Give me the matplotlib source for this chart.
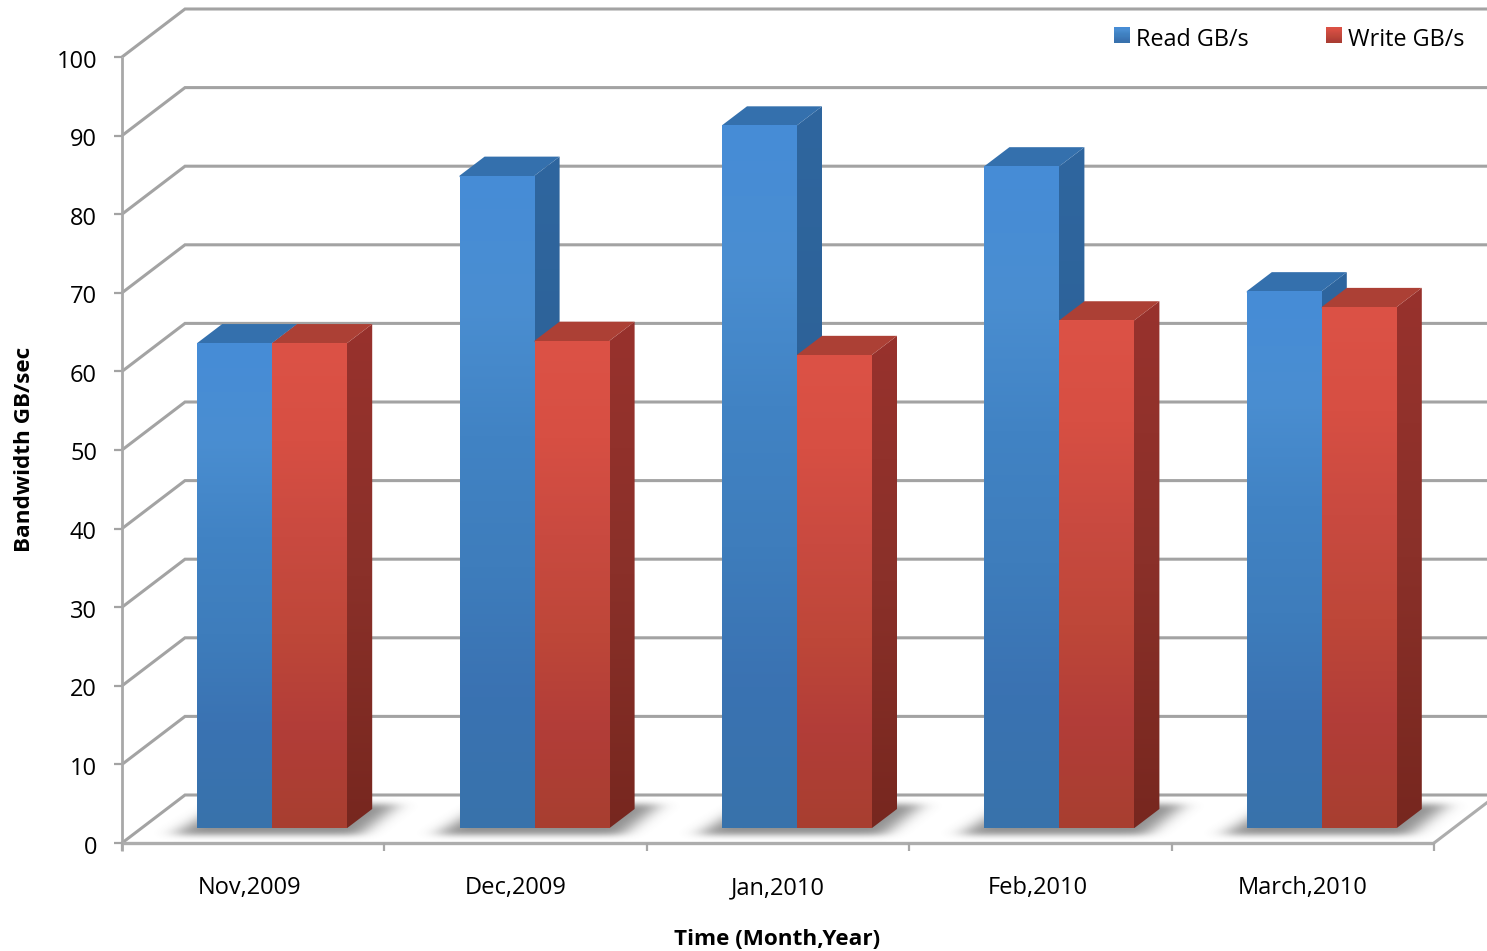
import matplotlib
matplotlib.use('Agg')
import matplotlib.pyplot as plt
import numpy as np
from matplotlib.colors import LinearSegmentedColormap
from matplotlib.patches import Polygon
from matplotlib.path import Path

plt.rcParams['font.family'] = ['Open Sans', 'DejaVu Sans']

months = ['Nov,2009', 'Dec,2009', 'Jan,2010', 'Feb,2010', 'March,2010']
read_gbs = [61.7, 83.0, 89.4, 84.2, 68.3]
write_gbs = [61.7, 62.0, 60.2, 64.6, 66.3]
y_ticks = list(range(0, 101, 10))

# scale of the plot area: one category / one GB/s expressed in pixels
PX_X, PX_Y = 262.4, 7.86
LEFT, BASE = 122, 843
W, H = 1487, 951

GRID = '#a3a3a3'

read_front = LinearSegmentedColormap.from_list('rf', ['#468cd7', '#4a8ed1', '#4183c4', '#3e7dbc', '#3a72b2', '#3873ab'])
read_side = LinearSegmentedColormap.from_list('rs', ['#2f669f', '#2c6196', '#285683'])
write_front = LinearSegmentedColormap.from_list('wf', ['#dc5246', '#d74f43', '#c94a40', '#be4739', '#b23d38', '#a83f30'])
write_side = LinearSegmentedColormap.from_list('ws', ['#98322d', '#8a3029', '#77271f'])


def dx(px):
    return px / PX_X


def dy(px):
    return px / PX_Y


def fx(px):
    return (px - LEFT) / PX_X


def fy(px):
    return (BASE - px) / PX_Y


def gradient_poly(ax, pts, cmap, zorder):
    pts = np.array(pts)
    grad = np.linspace(0, 1, 256).reshape(-1, 1)
    extent = (pts[:, 0].min(), pts[:, 0].max(), pts[:, 1].min(), pts[:, 1].max())
    im = ax.imshow(grad, cmap=cmap, extent=extent, origin='upper', aspect='auto', zorder=zorder)
    clip = Polygon(pts, closed=True, transform=ax.transData, facecolor='none', edgecolor='none')
    ax.add_patch(clip)
    im.set_clip_path(clip)


def draw_bar(ax, x0, width, value, front, side, top_color, zorder):
    d_x, d_y = dx(25), dy(19)
    y0 = dy(15)
    y1 = y0 + value
    x1 = x0 + width
    # side and top run a pixel under the front face so no seam shows
    seam_x, seam_y = dx(1.5), dy(1.5)
    gradient_poly(ax, [(x1 - seam_x, y0), (x1, y0), (x1 + d_x, y0 + d_y), (x1 + d_x, y1 + d_y), (x1, y1),
                       (x1 - seam_x, y1)], side, zorder)
    ax.add_patch(Polygon([(x0, y1 - seam_y), (x1, y1 - seam_y), (x1, y1), (x1 + d_x, y1 + d_y),
                          (x0 + d_x, y1 + d_y), (x0, y1)],
                         closed=True, facecolor=top_color, edgecolor='none', zorder=zorder))
    gradient_poly(ax, [(x0, y0), (x1, y0), (x1, y1), (x0, y1)], front, zorder + 0.1)


def blur_axis(arr, sigma, axis):
    r = int(3 * sigma)
    kernel = np.exp(-0.5 * (np.arange(-r, r + 1) / sigma) ** 2)
    kernel /= kernel.sum()
    return np.apply_along_axis(lambda row: np.convolve(row, kernel, mode='same'), axis, arr)


def draw_shadow(ax, x0, x1):
    # soft floor shadow: a sheared box blurred into an alpha channel
    left, right = x0 - dx(60), x1 + dx(80)
    low, high = dy(-6), dy(52)
    nx, ny = int((right - left) * PX_X), int((high - low) * PX_Y)
    xx, yy = np.meshgrid(np.linspace(left, right, nx), np.linspace(high, low, ny))
    box = Path([(x0 - dx(24), dy(8)), (x1 + dx(12), dy(8)), (x1 + dx(50), dy(38)), (x0 + dx(25), dy(38))])
    mask = box.contains_points(np.c_[xx.ravel(), yy.ravel()]).reshape(xx.shape).astype(float)
    mask = blur_axis(blur_axis(mask, 10, 1), 3, 0)
    rgba = np.zeros(mask.shape + (4,))
    rgba[..., :3] = 0.3
    rgba[..., 3] = mask * 0.62
    ax.imshow(rgba, extent=(left, right, low, high), origin='upper', aspect='auto', zorder=1.5)


fig = plt.figure(figsize=(W / 100, H / 100), dpi=100)
ax = fig.add_axes([0, 0, 1, 1])
ax.axis('off')

n = len(months)
depth_x, depth_y = dx(63), dy(48)

# back wall, side wall and floor lines
for v in y_ticks:
    ax.plot([0, depth_x, fx(W + 5)], [v, v + depth_y, v + depth_y], color=GRID, lw=2.2, zorder=1,
            solid_joinstyle='miter', solid_capstyle='butt')
    ax.plot([fx(114), 0], [v, v], color=GRID, lw=1.6, zorder=1, solid_capstyle='butt')
    ax.text(fx(97), v - dy(4.5), str(v), ha='right', va='center', fontsize=17, color='black')

ax.plot([0, 0], [dy(-8), 100], color='#a8a8a8', lw=2.0, zorder=1.2, solid_capstyle='butt')
ax.plot([0, n], [0, 0], color='#adadad', lw=2.4, zorder=1.2, solid_capstyle='butt')
ax.plot([n, n + depth_x], [0, depth_y], color='#adadad', lw=2.2, zorder=1.2)
for i in range(n + 1):
    ax.plot([i, i], [dy(-8), 0], color='#a8a8a8', lw=1.6, zorder=1.2, solid_capstyle='butt')

bar_w = dx(75)
# month labels do not sit quite on the category centres
label_shift = [-3.5, 0, 0, -3, 0]
for i in range(n):
    x_mid = i + 0.5 + dx(19)
    draw_shadow(ax, x_mid - bar_w, x_mid + bar_w)
for i in range(n):
    x_mid = i + 0.5 + dx(19)
    draw_bar(ax, x_mid - bar_w, bar_w, read_gbs[i], read_front, read_side, '#3470ad', 2 + i)
    draw_bar(ax, x_mid, bar_w, write_gbs[i], write_front, write_side, '#ac4035', 2.3 + i)
    ax.text(i + 0.5 + dx(label_shift[i]), fy(894), months[i], ha='center', va='baseline',
            fontsize=17, color='black', zorder=9)

ax.text(fx(777), fy(939.5), 'Time (Month,Year)', ha='center', va='center',
        fontsize=16.2, fontweight='bold', color='black')
ax.text(fx(25), fy(449), 'Bandwidth GB/sec', ha='center', va='center', rotation=90,
        fontsize=16.2, fontweight='bold', color='black')

# legend swatches
for px, label, cmap in [(1114, 'Read GB/s', read_front), (1326, 'Write GB/s', write_front)]:
    pts = [(fx(px), fy(43)), (fx(px + 16), fy(43)), (fx(px + 16), fy(27)), (fx(px), fy(27))]
    gradient_poly(ax, pts, cmap, 9)
    ax.text(fx(px + 22), fy(39.5), label, ha='left', va='center', fontsize=16.8, color='black', zorder=9)

ax.set_xlim(fx(0), fx(W))
ax.set_ylim(fy(H), fy(0))

fig.savefig('out.png', dpi=100)
